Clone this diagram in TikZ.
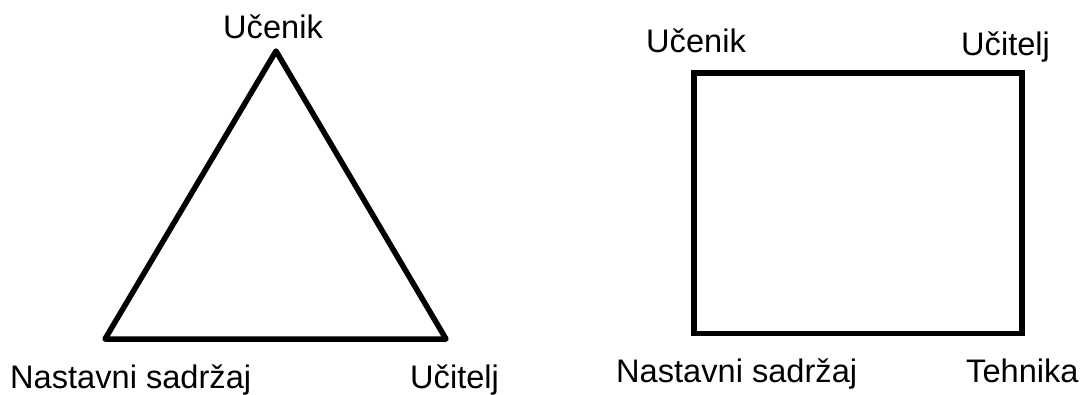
\documentclass[tikz,border=0pt]{standalone}
\usepackage{fontspec}
\setmainfont{Liberation Sans}
\begin{document}
\begin{tikzpicture}[x=1pt,y=-1pt,
  lbl/.style={anchor=base west,inner sep=0pt,font=\fontsize{32.6}{38}\selectfont},
  shapeline/.style={draw=black,line width=5.5pt,line join=round}]
\useasboundingbox[fill=white] (0,0) rectangle (1085,394);
% triangle
\coordinate (tA) at (276,51);
\coordinate (tL) at (105,339);
\coordinate (tR) at (446,339);
\draw[shapeline] (tA) -- (tL) -- (tR) -- cycle;
\node[lbl] (t1) at (223,38) {Učenik};
\node[lbl] (t2) at (10,388) {Nastavni sadržaj};
\node[lbl] (t3) at (410,388) {Učitelj};
% rectangle
\coordinate (rTL) at (694,73);
\coordinate (rBR) at (1022,333.5);
\draw[shapeline,line join=miter] (rTL) rectangle (rBR);
\node[lbl] (r1) at (646,52) {Učenik};
\node[lbl] (r2) at (961,55) {Učitelj};
\node[lbl] (r3) at (616,382) {Nastavni sadržaj};
\node[lbl] (r4) at (966,382) {Tehnika};
\end{tikzpicture}
\end{document}
